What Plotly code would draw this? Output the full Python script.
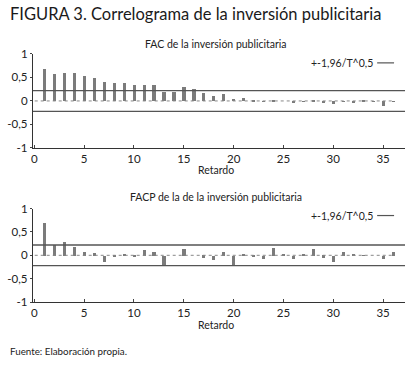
import plotly.graph_objects as go

lags = list(range(1, 37))
fac = [0.68, 0.57, 0.59, 0.59, 0.54, 0.50, 0.41, 0.39, 0.39, 0.34, 0.35, 0.35,
       0.20, 0.20, 0.29, 0.26, 0.18, 0.11, 0.14, 0.05, 0.07, 0.02, -0.02, 0.01,
       0.00, -0.05, -0.01, 0.01, -0.04, -0.06, -0.02, -0.03, 0.02, -0.02, -0.10, -0.02]
facp = [0.70, 0.24, 0.29, 0.19, 0.08, 0.06, -0.13, -0.01, 0.02, -0.03, 0.13, 0.07,
        -0.21, 0.00, 0.15, 0.00, -0.04, -0.10, 0.07, -0.22, 0.04, -0.02, -0.07, 0.17,
        0.03, -0.08, 0.03, 0.15, -0.04, -0.13, 0.09, 0.04, 0.01, 0.00, -0.06, 0.07]
band = 0.22
xticks = [0, 5, 10, 15, 20, 25, 30, 35]
yticks = [-1, -0.5, 0, 0.5, 1]
ytext = ["-1", "-0,5", "0", "0,5", "1"]

FONT = "Lato"
bar_col = "#7b7b7b"
line_col = "#555555"
W, H = 407, 370


def py(p):
    # pixel row (from top) -> paper fraction, with empirical vertical correction
    r = (p - 7) / 0.967
    return 1 - r / H


fig = go.Figure()
fig.add_trace(go.Bar(x=lags, y=fac, width=0.32, marker=dict(color=bar_col, line=dict(width=0)),
                     xaxis="x", yaxis="y", showlegend=False))
fig.add_trace(go.Bar(x=lags, y=facp, width=0.32, marker=dict(color=bar_col, line=dict(width=0)),
                     xaxis="x2", yaxis="y2", showlegend=False))

xdom = [31 / W, 405 / W]
ydom1 = [py(148.3), py(54)]
ydom2 = [py(302.7), py(209)]

axis_common = dict(showgrid=False, zeroline=False, showline=True, linecolor="#333333", linewidth=1,
                   tickfont=dict(family=FONT, size=11.5, color="#222222"))
fig.update_layout(
    width=W, height=H, autosize=False,
    margin=dict(l=0, r=0, t=0, b=0),
    paper_bgcolor="white", plot_bgcolor="white",
    showlegend=False,
    bargap=0,
    xaxis=dict(domain=xdom, range=[-0.15, 37.2], tickvals=xticks, ticks="inside", ticklen=3,
               anchor="y", **axis_common),
    yaxis=dict(domain=ydom1, range=[-1, 1], tickvals=yticks, ticktext=ytext, ticks="outside", ticklen=2,
               anchor="x", **axis_common),
    xaxis2=dict(domain=xdom, range=[-0.15, 37.2], tickvals=xticks, ticks="inside", ticklen=3,
                anchor="y2", **axis_common),
    yaxis2=dict(domain=ydom2, range=[-1, 1], tickvals=yticks, ticktext=ytext, ticks="outside", ticklen=2,
                anchor="x2", **axis_common),
)

for xa, ya in [("x", "y"), ("x2", "y2")]:
    for v in [band, -band]:
        fig.add_shape(type="line", xref=f"{xa} domain", yref=ya, x0=0, x1=1, y0=v, y1=v,
                      line=dict(color=line_col, width=1.3))
    fig.add_shape(type="line", xref=f"{xa} domain", yref=ya, x0=0.005, x1=0.97, y0=0, y1=0,
                  line=dict(color="#888888", width=1, dash="dot"))

ann = []
ann.append(dict(text="FIGURA 3. Correlograma de la inversión publicitaria", x=6 / W, y=py(14),
                xref="paper", yref="paper", xanchor="left", yanchor="middle", showarrow=False,
                font=dict(family=FONT, size=16.5, color="#1a1a1a")))
ann.append(dict(text="FAC de la inversión publicitaria", x=215 / W, y=py(44),
                xref="paper", yref="paper", xanchor="center", yanchor="middle", showarrow=False,
                font=dict(family=FONT, size=10.5, color="#222222")))
ann.append(dict(text="FACP de la de la inversión publicitaria", x=215 / W, y=py(197),
                xref="paper", yref="paper", xanchor="center", yanchor="middle", showarrow=False,
                font=dict(family=FONT, size=10.5, color="#222222")))
for yy in [170, 326]:
    ann.append(dict(text="Retardo", x=215 / W, y=py(yy),
                    xref="paper", yref="paper", xanchor="center", yanchor="middle", showarrow=False,
                    font=dict(family=FONT, size=10.5, color="#222222")))
for yy in [63, 216]:
    ann.append(dict(text="+-1,96/T^0,5", x=375 / W, y=py(yy),
                    xref="paper", yref="paper", xanchor="right", yanchor="middle", showarrow=False,
                    font=dict(family=FONT, size=10.5, color="#222222")))
    fig.add_shape(type="line", xref="paper", yref="paper", x0=377 / W, x1=394 / W,
                  y0=py(yy), y1=py(yy), line=dict(color=line_col, width=1.2))
ann.append(dict(text="Fuente: Elaboración propia.", x=6 / W, y=py(352),
                xref="paper", yref="paper", xanchor="left", yanchor="middle", showarrow=False,
                font=dict(family=FONT, size=9.8, color="#222222")))
fig.update_layout(annotations=ann)

fig.write_html("out.html", config={"displayModeBar": False},
               post_script="document.body.style.margin='0';document.body.style.padding='0';"
                           "document.body.style.overflow='hidden';")
